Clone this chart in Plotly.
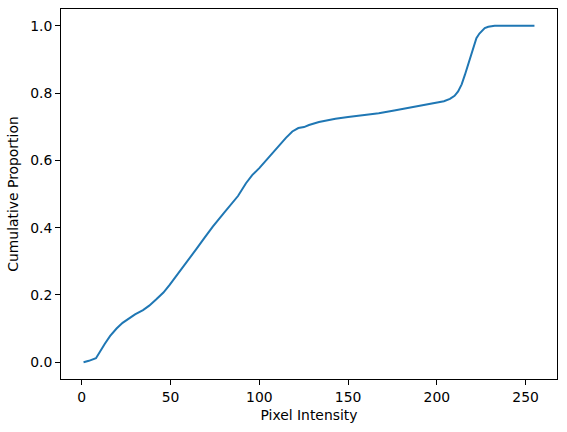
import plotly.graph_objects as go

intensity = [1, 4, 8, 10, 13, 16, 19.6, 23, 27, 30, 34.5, 38, 42, 46, 49.5, 54.7, 60, 64.5, 69, 73.8, 80, 85, 88, 92.5, 96, 100,
             105, 111.2, 115, 118.6, 122, 125.2, 128, 133.6, 142.9, 150, 160, 167.3, 176, 185.9, 193, 199, 204, 207.4, 210,
             212, 214, 215.8, 217.7, 219.5, 221, 222.3, 224, 225.5, 227, 229, 230.5, 232.6, 240, 255]
cum_prop = [0.0, 0.004, 0.012, 0.030, 0.055, 0.078, 0.100, 0.117, 0.131, 0.142, 0.155, 0.168, 0.187, 0.207, 0.230, 0.266, 0.304,
            0.336, 0.369, 0.403, 0.443, 0.473, 0.494, 0.532, 0.556, 0.577, 0.607, 0.646, 0.667, 0.686, 0.696, 0.699, 0.705,
            0.714, 0.724, 0.729, 0.735, 0.740, 0.748, 0.758, 0.764, 0.770, 0.776, 0.783, 0.792, 0.805, 0.826, 0.854, 0.886,
            0.919, 0.945, 0.963, 0.977, 0.986, 0.993, 0.997, 0.999, 1.0, 1.0, 1.0]

fig = go.Figure()
fig.add_trace(go.Scatter(x=intensity, y=cum_prop, mode="lines",
                         line=dict(color="#1f77b4", width=2), showlegend=False))

font = dict(family="DejaVu Sans", size=13.9, color="black")
axis_common = dict(showline=True, linecolor="black", linewidth=1, mirror=True,
                   ticks="outside", ticklen=5, tickwidth=1, tickcolor="black",
                   showgrid=False, zeroline=False, automargin=False,
                   tickfont=font)

fig.update_layout(
    width=567, height=432,
    margin=dict(l=61, r=10, t=9, b=53),
    paper_bgcolor="white", plot_bgcolor="white",
    font=font,
    xaxis=dict(range=[-11.7, 267.7], tickvals=[0, 50, 100, 150, 200, 250],
               title=dict(text="Pixel Intensity", font=font, standoff=6), **axis_common),
    yaxis=dict(range=[-0.05, 1.05], tickvals=[0, 0.2, 0.4, 0.6, 0.8, 1.0], tickformat=".1f",
               title=dict(text="Cumulative Proportion", font=font, standoff=8), **axis_common),
)

fig.write_html("out.html", config={"displayModeBar": False},
               post_script="document.body.style.margin='0';document.body.style.overflow='hidden';")
